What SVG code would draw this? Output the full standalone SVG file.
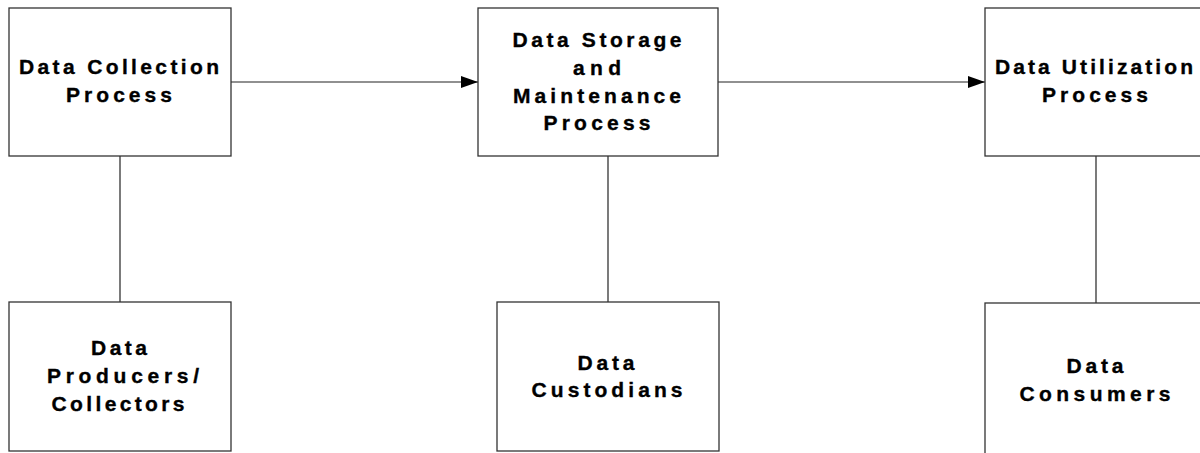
<svg xmlns="http://www.w3.org/2000/svg" width="1200" height="453" viewBox="0 0 1200 453">
<style>
.box{fill:#fff;stroke:#333;stroke-width:1.3}
.lbl{font-family:"Liberation Sans",Arial,sans-serif;font-weight:bold;font-size:21px;fill:#000;stroke:#000;stroke-width:0.35;text-anchor:middle}
.con{stroke:#222;stroke-width:1.2;fill:none}
</style>
<defs>
<marker id="ah" markerWidth="17" markerHeight="12" refX="17" refY="6" orient="auto" markerUnits="userSpaceOnUse">
<path d="M0,0 L17,6 L0,12 Z" fill="#000"/>
</marker>
</defs>
<rect width="1200" height="453" fill="#fff"/>
<g id="connectors">
<line class="con" x1="231" y1="82" x2="478" y2="82" marker-end="url(#ah)"/>
<line class="con" x1="718" y1="82" x2="985" y2="82" marker-end="url(#ah)"/>
<line class="con" x1="120" y1="156" x2="120" y2="302"/>
<line class="con" x1="608" y1="156" x2="608" y2="302"/>
<line class="con" x1="1096" y1="156" x2="1096" y2="303"/>
</g>
<g id="collection">
<rect class="box" x="9" y="8" width="222" height="148"/>
<text class="lbl" x="119" y="74" textLength="200" lengthAdjust="spacing">Data Collection</text>
<text class="lbl" x="119" y="102" textLength="106" lengthAdjust="spacing">Process</text>
</g>
<g id="storage">
<rect class="box" x="478" y="8" width="240" height="148"/>
<text class="lbl" x="597" y="47" textLength="169" lengthAdjust="spacing">Data Storage</text>
<text class="lbl" x="597" y="75" textLength="48" lengthAdjust="spacing">and</text>
<text class="lbl" x="597" y="103" textLength="168" lengthAdjust="spacing">Maintenance</text>
<text class="lbl" x="597" y="130" textLength="107" lengthAdjust="spacing">Process</text>
</g>
<g id="utilization">
<rect class="box" x="985" y="8" width="240" height="148"/>
<text class="lbl" x="1094" y="74" textLength="198" lengthAdjust="spacing">Data Utilization</text>
<text class="lbl" x="1095" y="102" textLength="106" lengthAdjust="spacing">Process</text>
</g>
<g id="producers">
<rect class="box" x="9" y="302" width="222" height="149"/>
<text class="lbl" x="119" y="355" textLength="56" lengthAdjust="spacing">Data</text>
<text class="lbl" x="123" y="383" textLength="152" lengthAdjust="spacing">Producers/</text>
<text class="lbl" x="118" y="411" textLength="133" lengthAdjust="spacing">Collectors</text>
</g>
<g id="custodians">
<rect class="box" x="497" y="302" width="222" height="149"/>
<text class="lbl" x="606" y="370" textLength="57" lengthAdjust="spacing">Data</text>
<text class="lbl" x="607" y="397" textLength="151" lengthAdjust="spacing">Custodians</text>
</g>
<g id="consumers">
<rect class="box" x="985" y="303" width="240" height="160"/>
<text class="lbl" x="1095" y="373" textLength="57" lengthAdjust="spacing">Data</text>
<text class="lbl" x="1095" y="401" textLength="151" lengthAdjust="spacing">Consumers</text>
</g>
</svg>
